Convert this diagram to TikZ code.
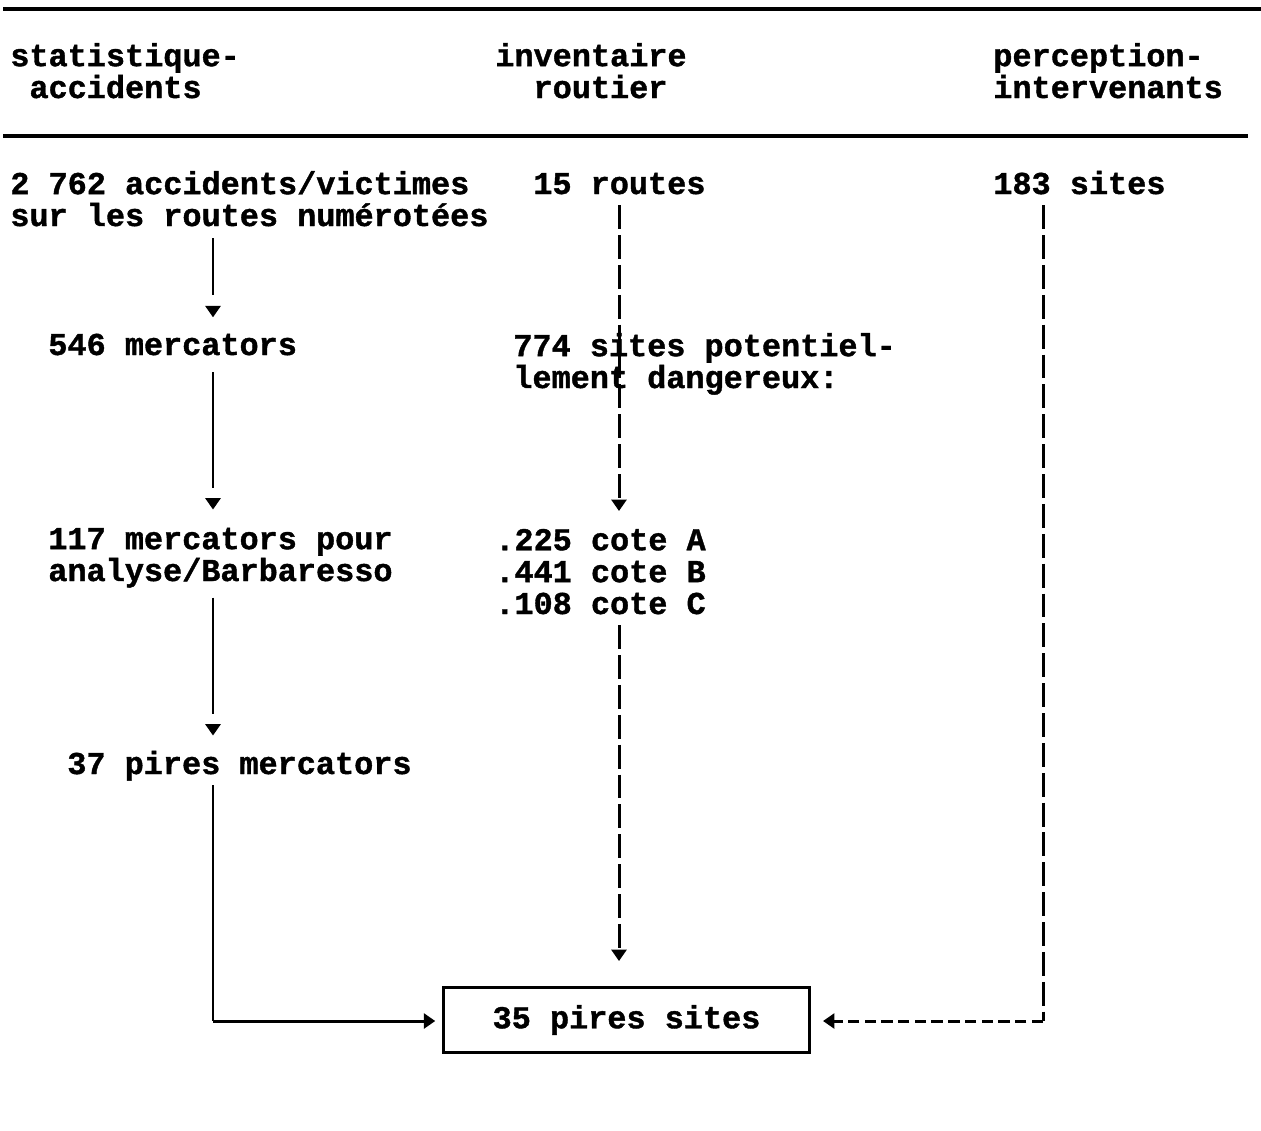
\documentclass[tikz,border=0pt]{standalone}
\usepackage{fontspec}
\setmonofont{Liberation Mono}[BoldFeatures={FakeBold=1.2}]
\usetikzlibrary{arrows.meta,calc,decorations.markings}
\begin{document}
\begin{tikzpicture}[x=0.02cm,y=-0.02cm,
  txt/.style={font=\ttfamily\bfseries\fontsize{18.14pt}{18.14pt}\selectfont, inner sep=0pt, anchor=base west, align=left},
  rulel/.style={line width=1.8pt},
  tipshape/.style={-{Triangle[width=8.5pt,length=6.5pt]}},
  solidconn/.style={line width=1.7pt, shorten >=12.5pt,
    postaction={decorate, decoration={markings, mark=at position 1 with {\arrow{Triangle[width=8.5pt,length=6.5pt]}}}}},
  plainconn/.style={line width=1.7pt},
  dashconn/.style={line width=1.7pt, dash pattern=on 13.6pt off 3.4pt, tipshape},
  dashplain/.style={line width=1.7pt, dash pattern=on 13.6pt off 3.4pt},
  hdash/.style={line width=1.7pt, dash pattern=on 6.5pt off 3pt, tipshape},
  boxst/.style={draw, line width=1.7pt, minimum width=208pt, minimum height=37.4pt, inner sep=0pt,
    font=\ttfamily\bfseries\fontsize{18.14pt}{18.14pt}\selectfont}
]
\useasboundingbox (0,0) rectangle (1261,1130);
% rules
\draw[rulel] (3,9) -- (1261,9);
\draw[rulel] (3,136) -- (1248,136);
% headers (base = baseline of last line)
\node[txt] (stat) at (10,98) {statistique-\\\ accidents};
\node[txt] (inv) at (495,98) {inventaire\\\ \ routier};
\node[txt] (perc) at (993,98) {perception-\\intervenants};
% column contents
\node[txt] (acc) at (10,226) {2 762 accidents/victimes\\sur les routes numérotées};
\node[txt] (routes) at (533,194) {15 routes};
\node[txt] (s183) at (993,194) {183 sites};
\node[txt] (m546) at (48,355) {546 mercators};
\node[txt] (s774) at (513,388) {774 sites potentiel-\\lement dangereux:};
\node[txt] (m117) at (48,581) {117 mercators pour\\analyse/Barbaresso};
\node[txt] (cote) at (495,614) {.225 cote A\\.441 cote B\\.108 cote C};
\node[txt] (m37) at (67,774) {37 pires mercators};
\node[boxst] (box) at (626.5,1020) {35 pires sites};
% column axes
\coordinate (xl) at (213,0);
\coordinate (xm) at (619,0);
\coordinate (xr) at (1043,0);
\coordinate (turnL) at (213,1021);
\coordinate (turnR) at (1043,1021);
% connectors
\draw[solidconn, shorten <=6.5pt] (acc.south -| xl) -- ($(m546.north -| xl)+(0,-16)$);
\draw[solidconn, shorten <=9.5pt] (m546.south -| xl) -- ($(m117.north -| xl)+(0,-18)$);
\draw[solidconn, shorten <=5.5pt] (m117.south -| xl) -- ($(m37.north -| xl)+(0,-15)$);
\draw[plainconn, shorten <=2.5pt] (m37.south -| xl) -- (turnL);
\draw[plainconn, tipshape, shorten >=4pt] (turnL) -- (box.west |- turnL);
\draw[dashconn, shorten <=6pt, shorten >=10pt] (routes.south -| xm) -- (cote.north -| xm);
\draw[dashconn, shorten <=6pt, shorten >=14pt] (cote.south -| xm) -- (box.north -| xm);
\draw[dashplain, shorten <=6pt] (s183.south -| xr) -- (turnR);
\draw[hdash, shorten >=7pt] (turnR) -- (box.east |- turnR);
\end{tikzpicture}
\end{document}
